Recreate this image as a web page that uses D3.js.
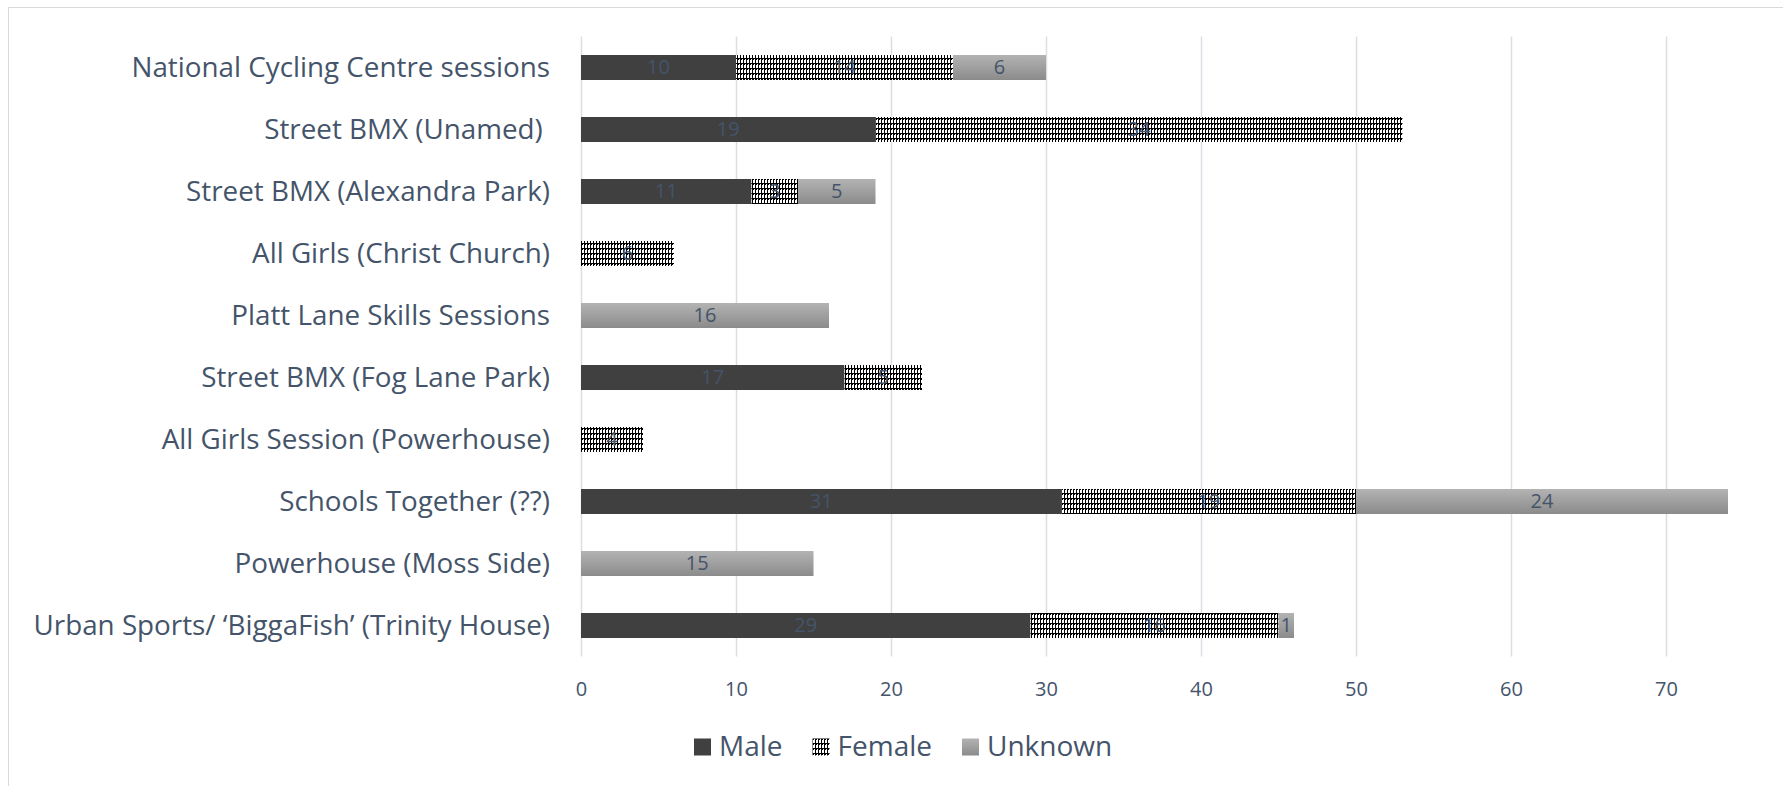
<!DOCTYPE html>
<html>
<head>
<meta charset="utf-8">
<script src="https://cdn.jsdelivr.net/npm/d3@7"></script>
<style>
  html, body { margin: 0; padding: 0; background: #ffffff; }
  svg { display: block; }
  text { font-family: "Open Sans", "Noto Sans", sans-serif; fill: #44546a; }
</style>
</head>
<body>
<svg id="chart" width="1783" height="786"></svg>
<script>
// Session names, listed top to bottom
const categories = [
  "National Cycling Centre sessions",
  "Street BMX (Unamed) ",
  "Street BMX (Alexandra Park)",
  "All Girls (Christ Church)",
  "Platt Lane Skills Sessions",
  "Street BMX (Fog Lane Park)",
  "All Girls Session (Powerhouse)",
  "Schools Together (??)",
  "Powerhouse (Moss Side)",
  "Urban Sports/ \u2018BiggaFish\u2019 (Trinity House)"
];
const seriesNames = ["Male", "Female", "Unknown"];
const male    = [10, 19, 11, 0, 0, 17, 0, 31, 0, 29];
const female  = [14, 34, 3, 6, 0, 5, 4, 19, 0, 16];
const unknown = [6, 0, 5, 0, 16, 0, 0, 24, 15, 1];
const xTicks  = [0, 10, 20, 30, 40, 50, 60, 70];

const rows = categories.map((c, i) => ({ name: c, Male: male[i], Female: female[i], Unknown: unknown[i] }));

const svg = d3.select("#chart");
const defs = svg.append("defs");

// Female fill: black ground with a grid of white squares and dots
const pat = defs.append("pattern")
  .attr("id", "femalePattern")
  .attr("patternUnits", "userSpaceOnUse")
  .attr("width", 6).attr("height", 5);
pat.append("rect").attr("width", 6).attr("height", 5).attr("fill", "#000");
pat.append("rect").attr("x", 0).attr("y", 0).attr("width", 2).attr("height", 3).attr("fill", "#fff");
pat.append("rect").attr("x", 3).attr("y", 0).attr("width", 2).attr("height", 3).attr("fill", "#fff");
pat.append("rect").attr("x", 1).attr("y", 4).attr("width", 1).attr("height", 1).attr("fill", "#fff");
pat.append("rect").attr("x", 4).attr("y", 4).attr("width", 1).attr("height", 1).attr("fill", "#fff");

// Unknown fill: light-to-mid grey vertical gradient
const grad = defs.append("linearGradient")
  .attr("id", "unknownGrad")
  .attr("x1", 0).attr("y1", 0).attr("x2", 0).attr("y2", 1);
grad.append("stop").attr("offset", "0%").attr("stop-color", "#b3b3b3");
grad.append("stop").attr("offset", "100%").attr("stop-color", "#8b8b8b");

const fills = { Male: "#404040", Female: "url(#femalePattern)", Unknown: "url(#unknownGrad)" };

// Chart frame
svg.append("rect")
  .attr("x", 8.5).attr("y", 7.5)
  .attr("width", 1800).attr("height", 800)
  .attr("fill", "none").attr("stroke", "#d9d9d9").attr("stroke-width", 1);

const plotTop = 36.5, plotBottom = 656.5;
const x = d3.scaleLinear().domain([0, 80]).range([581, 1821]);
const y = d3.scaleBand().domain(categories).range([plotTop, plotBottom])
  .paddingInner(0.597).paddingOuter(0.2985);

// Vertical gridlines
svg.append("g").selectAll("line").data(xTicks).join("line")
  .attr("x1", d => Math.round(x(d)) + 0.5).attr("x2", d => Math.round(x(d)) + 0.5)
  .attr("y1", plotTop).attr("y2", plotBottom)
  .attr("stroke", "#dadee4").attr("stroke-width", 1.5);

// Stacked bars
const stack = d3.stack().keys(seriesNames);
const layers = stack(rows);

const barG = svg.append("g");
layers.forEach(layer => {
  const key = layer.key;
  barG.append("g").selectAll("rect")
    .data(layer.filter(d => d[1] - d[0] > 0))
    .join("rect")
    .attr("x", d => x(d[0]))
    .attr("y", d => y(d.data.name))
    .attr("width", d => x(d[1]) - x(d[0]))
    .attr("height", y.bandwidth())
    .attr("fill", fills[key]);
});

// Value labels centred in each segment
const labG = svg.append("g");
layers.forEach(layer => {
  labG.append("g").selectAll("text")
    .data(layer.filter(d => d[1] - d[0] > 0))
    .join("text")
    .attr("x", d => x((d[0] + d[1]) / 2))
    .attr("y", d => y(d.data.name) + y.bandwidth() / 2 - 1)
    .attr("text-anchor", "middle")
    .attr("dominant-baseline", "central")
    .attr("font-size", 20)
    .text(d => d[1] - d[0]);
});

// Category labels
svg.append("g").selectAll("text").data(categories).join("text")
  .attr("x", 550)
  .attr("y", d => y(d) + y.bandwidth() / 2 - 2)
  .attr("text-anchor", "end")
  .attr("dominant-baseline", "central")
  .attr("font-size", 27.8)
  .style("white-space", "pre")
  .text(d => d);

// Value axis labels
const xAxis = d3.axisBottom(x).tickValues(xTicks).tickSize(0).tickPadding(0);
const axG = svg.append("g").attr("transform", "translate(0,688)").call(xAxis);
axG.select(".domain").remove();
axG.selectAll("text")
  .attr("dy", null).attr("y", 0)
  .attr("dominant-baseline", "central")
  .attr("font-size", 20)
  .attr("font-family", null)
  .attr("fill", "#44546a");

// Legend
const legendY = 746;
const legG = svg.append("g");
let lx = 694;
seriesNames.forEach(name => {
  legG.append("rect")
    .attr("x", lx).attr("y", legendY - 7.5)
    .attr("width", 17).attr("height", 17)
    .attr("fill", fills[name]);
  const t = legG.append("text")
    .attr("x", lx + 25).attr("y", legendY - 1)
    .attr("dominant-baseline", "central")
    .attr("font-size", 28)
    .text(name);
  lx += 25 + t.node().getComputedTextLength() + 30;
});
</script>
</body>
</html>
